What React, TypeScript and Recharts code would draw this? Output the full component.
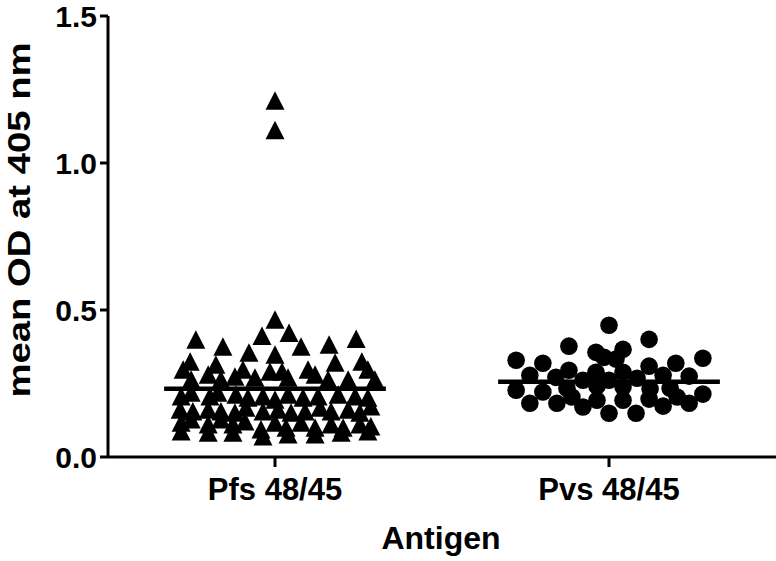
import React from "react";
import { ScatterChart, Scatter, XAxis, YAxis, ReferenceLine, Label } from "recharts";

// antigen groups on the x axis
const categories = ["Pfs 48/45", "Pvs 48/45"];
const yTicks = [0, 0.5, 1.0, 1.5];

// Pfs 48/45 (triangles): mean OD and horizontal scatter offset
const pfsValues = [
  1.21, 1.11, 0.465, 0.397, 0.41, 0.42, 0.4, 0.373, 0.353, 0.373, 0.38, 0.346,
  0.322, 0.312, 0.295, 0.319, 0.322, 0.295, 0.278, 0.288, 0.288, 0.295, 0.278, 0.295,
  0.261, 0.261, 0.271, 0.268, 0.268, 0.261, 0.261, 0.261,
  0.204, 0.217, 0.204, 0.217, 0.21, 0.2, 0.204, 0.193, 0.21, 0.2, 0.204, 0.21, 0.204, 0.2,
  0.159, 0.153, 0.159, 0.153, 0.149, 0.166, 0.153, 0.159, 0.149, 0.153, 0.166, 0.153, 0.159, 0.149, 0.17,
  0.115, 0.126, 0.109, 0.126, 0.109, 0.119, 0.092, 0.115, 0.098, 0.115, 0.098, 0.109, 0.098, 0.109, 0.102,
  0.085, 0.081, 0.081, 0.068, 0.075, 0.075, 0.081, 0.085,
];
const pfsJitter = [
  0.0, 0.0, 0.0, -0.237, -0.039, 0.042, 0.243, -0.156, -0.078, 0.078, 0.162, 0.0,
  -0.254, -0.177, -0.096, 0.18, 0.26, -0.275, -0.2, -0.015, 0.021, 0.099, 0.12, 0.278,
  -0.251, -0.162, -0.12, -0.06, 0.039, 0.159, 0.219, 0.299,
  -0.281, -0.251, -0.195, -0.171, -0.117, -0.081, -0.036, 0.0, 0.039, 0.084, 0.129, 0.189, 0.24, 0.278,
  -0.284, -0.246, -0.2, -0.162, -0.12, -0.087, -0.036, 0.009, 0.048, 0.09, 0.135, 0.168, 0.219, 0.254, 0.287,
  -0.281, -0.251, -0.2, -0.162, -0.126, -0.09, -0.042, 0.0, 0.033, 0.078, 0.12, 0.168, 0.204, 0.254, 0.287,
  -0.281, -0.2, -0.126, -0.036, 0.039, 0.12, 0.198, 0.278,
];

// Pvs 48/45 (circles)
const pvsValues = [
  0.448, 0.4, 0.377, 0.356, 0.366, 0.329, 0.336, 0.319, 0.339, 0.333, 0.319, 0.309,
  0.295, 0.278, 0.271, 0.288, 0.288, 0.278, 0.275, 0.261, 0.268, 0.261,
  0.227, 0.221, 0.234, 0.241, 0.238, 0.231, 0.234, 0.214,
  0.183, 0.183, 0.17, 0.193, 0.193, 0.149, 0.149, 0.197, 0.173, 0.183, 0.204, 0.204,
];
const pvsJitter = [
  0.0, 0.12, -0.12, -0.039, 0.042, -0.278, 0.281, -0.198, -0.015, 0.021, 0.2, 0.12,
  -0.12, -0.237, -0.159, -0.039, 0.042, 0.162, 0.24, -0.078, 0.084, 0.0,
  -0.278, -0.198, -0.126, -0.036, 0.042, 0.123, 0.183, 0.281,
  -0.237, -0.156, -0.078, -0.036, 0.042, 0.0, 0.081, 0.12, 0.162, 0.24, 0.204, -0.111,
];

// group means (horizontal bars)
const means = [0.232, 0.256];
const meanHalfWidth = 0.332;

const FONT = "'Liberation Sans', Arial, Helvetica, sans-serif";

const toPoints = (cat: number, values: number[], jitter: number[]) =>
  values.map((v, i) => ({ x: cat + 0.5 + jitter[i], y: v }));

const pfsData = toPoints(0, pfsValues, pfsJitter);
const pvsData = toPoints(1, pvsValues, pvsJitter);

const Triangle = (props: any) => {
  const { cx, cy } = props;
  return (
    <polygon
      points={`${cx},${cy - 10} ${cx + 9.5},${cy + 8.5} ${cx - 9.5},${cy + 8.5}`}
      fill="#000"
    />
  );
};

const Dot = (props: any) => <circle cx={props.cx} cy={props.cy} r={8.8} fill="#000" />;

const YTick = (props: any) => {
  const { x, y, payload } = props;
  return (
    <text x={x} y={y} dy={11} textAnchor="end" fontFamily={FONT} fontWeight="bold" fontSize={30} fill="#000">
      {Number(payload.value).toFixed(1)}
    </text>
  );
};

const XTick = (props: any) => {
  const { x, y, payload } = props;
  return (
    <text x={x} y={y} dy={23} textAnchor="middle" fontFamily={FONT} fontWeight="bold" fontSize={31} fill="#000">
      {categories[Math.floor(payload.value)]}
    </text>
  );
};

export default function App() {
  return (
    <div style={{ position: "absolute", left: 0, top: 0, background: "#fff" }}>
      <ScatterChart width={776} height={561} margin={{ top: 16, right: 0, left: 0, bottom: 0 }}>
        <XAxis
          type="number"
          dataKey="x"
          domain={[0, 2]}
          ticks={[0.5, 1.5]}
          height={104}
          tick={<XTick />}
          tickSize={10}
          tickMargin={10}
          axisLine={{ stroke: "#000", strokeWidth: 3 }}
          tickLine={{ stroke: "#000", strokeWidth: 3 }}
        >
          <Label
            content={() => (
              <text x={441} y={549} textAnchor="middle" fontFamily={FONT} fontWeight="bold" fontSize={32} fill="#000">
                Antigen
              </text>
            )}
          />
        </XAxis>
        <YAxis
          type="number"
          dataKey="y"
          domain={[0, 1.5]}
          ticks={yTicks}
          width={108}
          tick={<YTick />}
          tickSize={8}
          tickMargin={3}
          axisLine={{ stroke: "#000", strokeWidth: 3 }}
          tickLine={{ stroke: "#000", strokeWidth: 3 }}
        >
          <Label
            content={() => (
              <text
                x={30}
                y={220}
                transform="rotate(-90 30 220)"
                textAnchor="middle"
                fontFamily={FONT}
                fontWeight="bold"
                fontSize={31}
                textLength={355}
                lengthAdjust="spacingAndGlyphs"
                fill="#000"
              >
                mean OD at 405 nm
              </text>
            )}
          />
        </YAxis>
        <Scatter data={pfsData} shape={Triangle} isAnimationActive={false} />
        <Scatter data={pvsData} shape={Dot} isAnimationActive={false} />
        {means.map((m, i) => (
          <ReferenceLine
            key={categories[i]}
            segment={[
              { x: i + 0.5 - meanHalfWidth, y: m },
              { x: i + 0.5 + meanHalfWidth, y: m },
            ]}
            stroke="#000"
            strokeWidth={4.5}
          />
        ))}
      </ScatterChart>
    </div>
  );
}
